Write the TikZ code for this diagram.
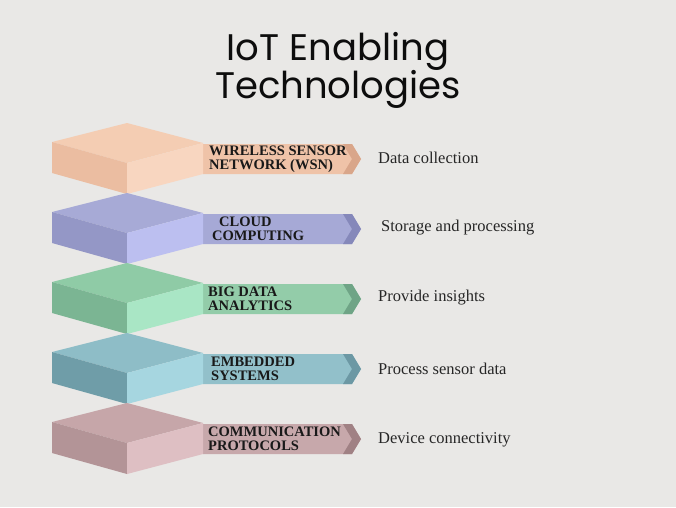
\documentclass[tikz,border=0pt]{standalone}
\usepackage{fontspec}
\setmainfont{Liberation Serif}
\newfontfamily\titlefont{Poppins}

\definecolor{bg}{HTML}{E9E8E6}
\definecolor{wsntop}{HTML}{F4CDB3}
\definecolor{wsnleft}{HTML}{EBBDA1}
\definecolor{wsnright}{HTML}{F8D6C0}
\definecolor{wsnband}{HTML}{EFC3A8}
\definecolor{wsnfold}{HTML}{D9A68A}
\definecolor{cloudtop}{HTML}{A7AAD6}
\definecolor{cloudleft}{HTML}{9497C6}
\definecolor{cloudright}{HTML}{BCBFF0}
\definecolor{cloudband}{HTML}{A6A9D6}
\definecolor{cloudfold}{HTML}{8588BA}
\definecolor{bigtop}{HTML}{8FCBA6}
\definecolor{bigleft}{HTML}{7BB593}
\definecolor{bigright}{HTML}{A9E6C5}
\definecolor{bigband}{HTML}{93CCA9}
\definecolor{bigfold}{HTML}{6FA486}
\definecolor{embtop}{HTML}{8EBDC7}
\definecolor{embleft}{HTML}{6F9DA8}
\definecolor{embright}{HTML}{A6D6E0}
\definecolor{embband}{HTML}{92C0CA}
\definecolor{embfold}{HTML}{6C98A4}
\definecolor{comtop}{HTML}{C6A6A9}
\definecolor{comleft}{HTML}{B39497}
\definecolor{comright}{HTML}{DEBFC3}
\definecolor{comband}{HTML}{C7A8AB}
\definecolor{comfold}{HTML}{A08184}

\begin{document}
\begin{tikzpicture}[x=1pt,y=-1pt]
    \tikzstyle{title} = [font=\titlefont\fontsize{37}{31}\selectfont, anchor=base,
        inner sep=0pt, text=black!95]
    \tikzstyle{banner} = [font=\fontsize{14.5}{13.5}\selectfont\bfseries,
        align=left, anchor=west, inner sep=0pt, text=black!90]
    \tikzstyle{use} = [font=\fontsize{16.5}{18}\selectfont, anchor=west,
        inner sep=0pt, text=black!85]

    \fill[bg] (0,0) rectangle (676,507);

    \node(title) [title, text depth=0pt] at (338,60) {IoT Enabling};
    \node(title2) [title, text height=20pt] at (338,98) {Technologies};

    \begin{scope}[shift={(0,123)}]
        \fill[wsnband] (203,21) -- (352,21) -- (361,36) -- (352,51) -- (203,51) -- cycle;
        \fill[wsnfold] (343,21) -- (352,21) -- (361,36) -- (352,51) -- (343,51) -- (352,36) -- cycle;
        \fill[wsntop] (52,19) -- (127,0) -- (203,20) -- (127,40) -- cycle;
        \fill[wsnleft] (52,19) -- (127,40) -- (127,71) -- (52,50) -- cycle;
        \fill[wsnright] (127,40) -- (203,20) -- (203,51) -- (127,71) -- cycle;
        \node(wsn) [banner] at (209,36) {WIRELESS SENSOR\\NETWORK (WSN)};
        \node(wsnuse) [use] at (378,35) {Data collection};
    \end{scope}

    \begin{scope}[shift={(0,193)}]
        \fill[cloudband] (203,21) -- (352,21) -- (361,36) -- (352,51) -- (203,51) -- cycle;
        \fill[cloudfold] (343,21) -- (352,21) -- (361,36) -- (352,51) -- (343,51) -- (352,36) -- cycle;
        \fill[cloudtop] (52,19) -- (127,0) -- (203,20) -- (127,40) -- cycle;
        \fill[cloudleft] (52,19) -- (127,40) -- (127,71) -- (52,50) -- cycle;
        \fill[cloudright] (127,40) -- (203,20) -- (203,51) -- (127,71) -- cycle;
        \node(cloud) [banner] at (212,36) {\hspace*{7pt}CLOUD\\COMPUTING};
        \node(clouduse) [use] at (381,35) {Storage and processing};
    \end{scope}

    \begin{scope}[shift={(0,263)}]
        \fill[bigband] (203,21) -- (352,21) -- (361,36) -- (352,51) -- (203,51) -- cycle;
        \fill[bigfold] (343,21) -- (352,21) -- (361,36) -- (352,51) -- (343,51) -- (352,36) -- cycle;
        \fill[bigtop] (52,19) -- (127,0) -- (203,20) -- (127,40) -- cycle;
        \fill[bigleft] (52,19) -- (127,40) -- (127,71) -- (52,50) -- cycle;
        \fill[bigright] (127,40) -- (203,20) -- (203,51) -- (127,71) -- cycle;
        \node(bigdata) [banner] at (208,36) {BIG DATA\\ANALYTICS};
        \node(bigdatause) [use] at (378,35) {Provide insights};
    \end{scope}

    \begin{scope}[shift={(0,333)}]
        \fill[embband] (203,21) -- (352,21) -- (361,36) -- (352,51) -- (203,51) -- cycle;
        \fill[embfold] (343,21) -- (352,21) -- (361,36) -- (352,51) -- (343,51) -- (352,36) -- cycle;
        \fill[embtop] (52,19) -- (127,0) -- (203,20) -- (127,40) -- cycle;
        \fill[embleft] (52,19) -- (127,40) -- (127,71) -- (52,50) -- cycle;
        \fill[embright] (127,40) -- (203,20) -- (203,51) -- (127,71) -- cycle;
        \node(embedded) [banner] at (211,36) {EMBEDDED\\SYSTEMS};
        \node(embeddeduse) [use] at (378,36) {Process sensor data};
    \end{scope}

    \begin{scope}[shift={(0,403)}]
        \fill[comband] (203,21) -- (352,21) -- (361,36) -- (352,51) -- (203,51) -- cycle;
        \fill[comfold] (343,21) -- (352,21) -- (361,36) -- (352,51) -- (343,51) -- (352,36) -- cycle;
        \fill[comtop] (52,19) -- (127,0) -- (203,20) -- (127,40) -- cycle;
        \fill[comleft] (52,19) -- (127,40) -- (127,71) -- (52,50) -- cycle;
        \fill[comright] (127,40) -- (203,20) -- (203,51) -- (127,71) -- cycle;
        \node(comm) [banner] at (208,36) {COMMUNICATION\\PROTOCOLS};
        \node(commuse) [use] at (378,37) {Device connectivity};
    \end{scope}
\end{tikzpicture}
\end{document}
